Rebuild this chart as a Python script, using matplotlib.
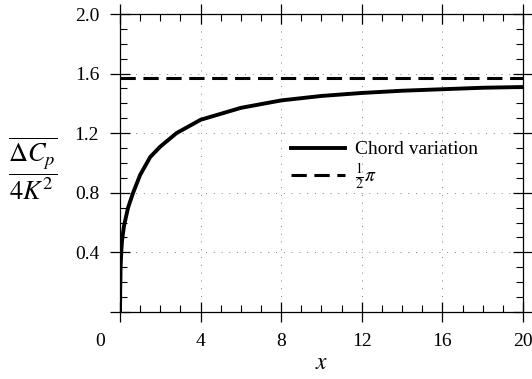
import numpy as np
import matplotlib
matplotlib.use("Agg")
from matplotlib import pyplot as plt
from matplotlib.ticker import MultipleLocator
from matplotlib.transforms import ScaledTranslation

plt.rcParams["font.family"] = "serif"
plt.rcParams["font.serif"] = ["Liberation Serif", "DejaVu Serif"]
plt.rcParams["mathtext.fontset"] = "stix"

# curve
x_chord = [0, 0.01, 0.03, 0.06, 0.1, 0.2, 0.4, 0.65, 1.0, 1.5, 2.0, 2.8, 4, 5, 6, 8, 10, 12, 14, 16, 18, 20]
y_chord = [0, 0.15, 0.3, 0.4, 0.48, 0.58, 0.7, 0.8, 0.92, 1.04, 1.11, 1.2, 1.29, 1.33, 1.37, 1.42, 1.45, 1.47, 1.485, 1.495, 1.505, 1.51]
half_pi = np.pi / 2

x_ticks = [0, 4, 8, 12, 16, 20]
y_ticks = [0, 0.4, 0.8, 1.2, 1.6, 2.0]
y_labels = ["", "0.4", "0.8", "1.2", "1.6", "2.0"]

fig = plt.figure(figsize=(5.32, 3.79), dpi=100)
ax = fig.add_axes([0.2256, 0.177, 0.7574, 0.786])

ax.plot(x_chord, y_chord, color="black", lw=2.8, label="Chord variation")
ax.axhline(half_pi, color="black", lw=2.2, ls=(0, (5, 2.5)), label=r"$\frac{1}{2}\pi$")

ax.set_xlim(0, 20)
ax.set_ylim(0, 2.0)
ax.set_xticks(x_ticks)
ax.set_xticklabels([str(t) for t in x_ticks])
ax.set_yticks(y_ticks)
ax.set_yticklabels(y_labels)
ax.xaxis.set_minor_locator(MultipleLocator(1))
ax.yaxis.set_minor_locator(MultipleLocator(0.1))

ax.tick_params(which="major", direction="inout", length=14, width=0.9,
               top=True, right=True, labelsize=14, pad=8)
ax.tick_params(which="minor", direction="in", length=5, width=0.8, top=True, right=True)
for s in ax.spines.values():
    s.set_linewidth(0.9)

# the "0" sits left of the corner in the original
zero_lbl = ax.get_xticklabels()[0]
zero_lbl.set_transform(zero_lbl.get_transform() + ScaledTranslation(-0.2, 0, fig.dpi_scale_trans))

ax.grid(True, which="major", color="gray", lw=0.7, ls=(0, (1, 7)))

ax.set_xlabel(r"$x$", fontsize=17, labelpad=2)
ax.set_ylabel(r"$\dfrac{\overline{\Delta C_p}}{4K^2}$", fontsize=19, rotation=0,
              va="center", labelpad=22)
ax.yaxis.set_label_coords(-0.218, 0.48)

ax.legend(loc="center left", bbox_to_anchor=(0.4, 0.49), frameon=False,
          fontsize=14, handlelength=2.8, handletextpad=0.5, labelspacing=0.15,
          borderpad=0)

fig.savefig("out.png", dpi=100)
